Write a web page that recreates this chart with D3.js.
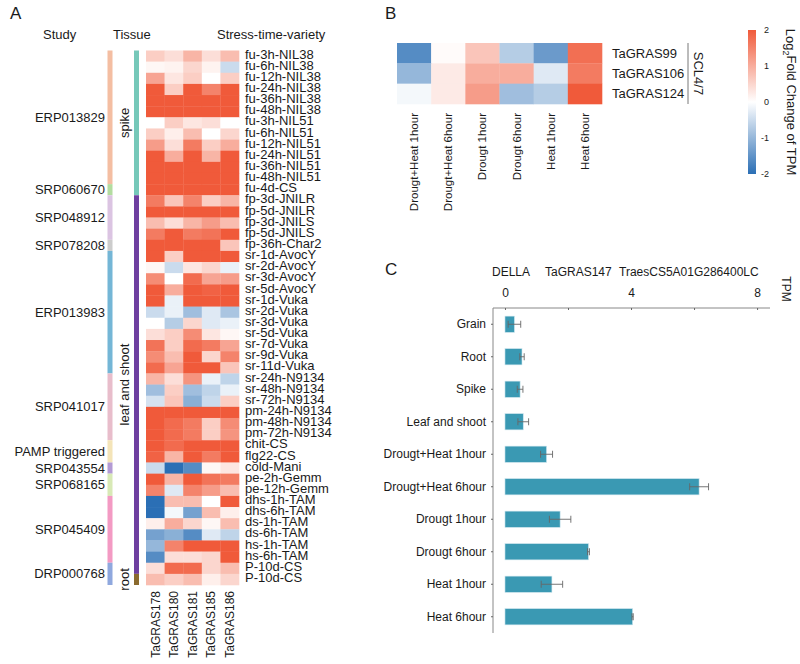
<!DOCTYPE html>
<html><head><meta charset="utf-8">
<script src="https://cdn.jsdelivr.net/npm/d3@7"></script>
<style>body{margin:0;background:#fff}svg{display:block;font-family:"Liberation Sans",Arial,sans-serif}</style>
</head><body><svg id="c" width="800" height="664"></svg>
<script>
// ---------- Panel A data ----------
const rowsA = ["fu-3h-NIL38","fu-6h-NIL38","fu-12h-NIL38","fu-24h-NIL38","fu-36h-NIL38","fu-48h-NIL38",
 "fu-3h-NIL51","fu-6h-NIL51","fu-12h-NIL51","fu-24h-NIL51","fu-36h-NIL51","fu-48h-NIL51","fu-4d-CS",
 "fp-3d-JNILR","fp-5d-JNILR","fp-3d-JNILS","fp-5d-JNILS","fp-36h-Char2",
 "sr-1d-AvocY","sr-2d-AvocY","sr-3d-AvocY","sr-5d-AvocY","sr-1d-Vuka","sr-2d-Vuka","sr-3d-Vuka","sr-5d-Vuka",
 "sr-7d-Vuka","sr-9d-Vuka","sr-11d-Vuka","sr-24h-N9134","sr-48h-N9134","sr-72h-N9134",
 "pm-24h-N9134","pm-48h-N9134","pm-72h-N9134","chit-CS","flg22-CS","cold-Mani","pe-2h-Gemm","pe-12h-Gemm",
 "dhs-1h-TAM","dhs-6h-TAM","ds-1h-TAM","ds-6h-TAM","hs-1h-TAM","hs-6h-TAM","P-10d-CS","P-10d-CS"];
const colsA = ["TaGRAS178","TaGRAS180","TaGRAS181","TaGRAS185","TaGRAS186"];
const valuesA = [
 [0.6,0.4,0.9,0.4,0.8],[0.1,0.15,0.5,0.15,-0.5],[1.1,0.3,0.6,0.0,0.6],[2,0.6,2,1.5,2],[2,2,2,2,2],[2,2,2,2,2],
 [0.0,0.6,0.3,0.4,0.0],[0.6,0.2,0.8,0.0,0.5],[1.2,0.4,1.6,0.6,1.0],[2,1.0,2,0.9,2],[2,2,2,2,2],[2,2,2,2,2],[2,2,2,2,2],
 [1.6,0.7,1.5,0.6,0.9],[2,2,2,2,2],[0.8,0.4,0.9,1.2,0.8],[1.6,2,1.6,1.7,2],[2,2,2,2,0.7],
 [2,0.6,2,2,2],[0.1,-0.5,0.3,0.5,-0.2],[1.4,0.0,1.8,1.1,1.2],[2,1.0,2,1.9,2],[2,-0.2,2,2,2],
 [-0.5,-0.2,-0.9,-0.3,-0.8],[0.0,-0.7,0.5,-0.3,-0.2],[0.4,0.6,1.4,0.3,0.1],[1.7,0.6,1.8,1.6,1.1],
 [1.4,0.8,2,0.5,1.5],[1.8,1.1,2,2,0.7],[0.9,0.4,1.3,-0.2,-0.6],[-0.9,0.6,-0.9,-0.6,-0.2],[-0.4,0.7,-1.1,-0.5,0.6],
 [2,2,2,2,2],[2,1.8,1.6,0.6,1.4],[2,1.8,1.6,0.6,1.3],[2,1.8,2,2,2],[1.9,0.9,2,1.6,2],
 [-0.5,-2,-1.6,0.1,0.3],[2,0.9,2,1.7,1.6],[1.5,-0.3,1.5,1.2,0.8],
 [-2,0.8,0.8,0.0,2],[-2,-0.1,-1.3,0.8,0.2],[0.2,1.0,0.5,0.1,0.8],[-1.3,-1.1,-1.6,-0.3,-0.6],
 [-1.0,1.5,2,2,2],[-1.6,0.4,0.4,0.5,2],[0.4,1.8,1.8,0.5,0.8],[0.8,0.6,0.8,0.2,0.5]
];
const studyNames = ["ERP013829","SRP060670","SRP048912","SRP078208","ERP013983","SRP041017","PAMP triggered","SRP043554","SRP068165","SRP045409","DRP000768"];
const studyCounts = [12,1,4,1,11,6,2,1,2,6,2];
const studyColors = ["#f4bea2","#b3dca0","#dbc4e2","#cccccc","#74b6d6","#e8bdcb","#f4e4b8","#b39ad4","#d8e9b6","#f39ac3","#8fa8de"];
const tissueNames = ["spike","leaf and shoot","root"];
const tissueCounts = [13,34,1];
const tissueColors = ["#76c8b9","#6e3fa0","#8b6a2e"];

// ---------- Panel B data ----------
const rowsB = ["TaGRAS99","TaGRAS106","TaGRAS124"];
const colsB = ["Drougt+Heat 1hour","Drougt+Heat 6hour","Drougt 1hour","Drougt 6hour","Heat 1hour","Heat 6hour"];
const valuesB = [
 [-1.6,0.05,0.7,-0.7,-1.4,1.75],
 [-1.0,0.25,1.0,1.0,-0.3,1.6],
 [-0.1,0.25,1.2,-0.9,-0.7,2.0]
];
const legendTicks = [2,1,0,-1,-2];

// ---------- Panel C data ----------
const barTitle = ["DELLA","TaGRAS147","TraesCS5A01G286400LC"];
const barCategories = ["Grain","Root","Spike","Leaf and shoot","Drougt+Heat 1hour","Drougt+Heat 6hour","Drougt 1hour","Drougt 6hour","Heat 1hour","Heat 6hour"];
const barValues = [0.3,0.54,0.48,0.58,1.32,6.16,1.75,2.65,1.49,4.05];
const barErrors = [0.2,0.07,0.09,0.17,0.19,0.3,0.34,0.03,0.34,0.02];
const barTicks = [0,2,4,6,8];
const barTickLabels = [0,4,8];

// ---------- drawing ----------
const svg = d3.select("#c");
const color = d3.scaleLinear().domain([-2,0,2]).range(["#2b6fb5","#ffffff","#f05a3a"]).clamp(true);
const txt = "#1a1a1a";

function label(t,x,y){svg.append("text").attr("x",x).attr("y",y).attr("font-size",17).attr("fill",txt).text(t);}
label("A",10,19); label("B",385,19); label("C",385,275);

// Panel A
const gA = svg.append("g");
const xA = d3.scaleBand().domain(colsA).range([146,239]);
const yA = d3.scaleBand().domain(d3.range(rowsA.length)).range([50.5,585]);
valuesA.forEach((row,i)=>row.forEach((v,j)=>{
  gA.append("rect").attr("x",xA(colsA[j])).attr("y",yA(i)).attr("width",xA.bandwidth()+0.3).attr("height",yA.bandwidth()+0.3).attr("fill",color(v));
}));
gA.selectAll(".rl").data(rowsA).join("text").attr("x",245).attr("y",(d,i)=>yA(i)+yA.bandwidth()/2)
  .attr("dy","0.2em").attr("font-size",13).attr("fill",txt).text(d=>d);
gA.selectAll(".cl").data(colsA).join("text")
  .attr("transform",d=>`translate(${xA(d)+xA.bandwidth()/2},591) rotate(-90)`)
  .attr("text-anchor","end").attr("dy","0.35em").attr("font-size",12).attr("fill",txt).text(d=>d);
[["Study",43],["Tissue",113],["Stress-time-variety",217]].forEach(([t,x])=>
  gA.append("text").attr("x",x).attr("y",39).attr("font-size",13).attr("fill",txt).text(t));
// study annotation
let start=0;
studyNames.forEach((s,k)=>{
  const y0=yA(start), y1=yA(start+studyCounts[k]-1)+yA.bandwidth();
  gA.append("rect").attr("x",107.5).attr("y",y0).attr("width",5).attr("height",y1-y0).attr("fill",studyColors[k]);
  gA.append("text").attr("x",105).attr("y",(y0+y1)/2).attr("dy","0.35em").attr("text-anchor","end").attr("font-size",13).attr("fill",txt).text(s);
  start+=studyCounts[k];
});
start=0;
tissueNames.forEach((s,k)=>{
  const y0=yA(start), y1=yA(start+tissueCounts[k]-1)+yA.bandwidth();
  gA.append("rect").attr("x",134).attr("y",y0).attr("width",5).attr("height",y1-y0).attr("fill",tissueColors[k]);
  gA.append("text").attr("transform",`translate(124.5,${(y0+y1)/2}) rotate(-90)`).attr("text-anchor","middle")
    .attr("dy","0.35em").attr("font-size",13).attr("fill",txt).text(s);
  start+=tissueCounts[k];
});

// Panel B
const gB = svg.append("g");
const xB = d3.scaleBand().domain(colsB).range([397,602]);
const yB = d3.scaleBand().domain(rowsB).range([43,104]);
valuesB.forEach((row,i)=>row.forEach((v,j)=>{
  gB.append("rect").attr("x",xB(colsB[j])).attr("y",yB(rowsB[i])).attr("width",xB.bandwidth()+0.3).attr("height",yB.bandwidth()+0.3).attr("fill",color(v));
}));
gB.selectAll(".rl").data(rowsB).join("text").attr("x",612).attr("y",d=>yB(d)+yB.bandwidth()/2)
  .attr("dy","0.35em").attr("font-size",13).attr("fill",txt).text(d=>d);
gB.selectAll(".cl").data(colsB).join("text")
  .attr("transform",d=>`translate(${xB(d)+xB.bandwidth()/2},113) rotate(-90)`)
  .attr("text-anchor","end").attr("dy","0.35em").attr("font-size",11.5).attr("fill",txt).text(d=>d);
gB.append("line").attr("x1",688).attr("x2",688).attr("y1",yB.range()[0]).attr("y2",yB.range()[1]).attr("stroke","#555").attr("stroke-width",0.8);
gB.append("text").attr("transform",`translate(694,${(yB.range()[0]+yB.range()[1])/2}) rotate(90)`).attr("text-anchor","middle")
  .attr("font-size",13).attr("fill",txt).text("SCL4/7");
// legend
const yL = d3.scaleLinear().domain([-2,2]).range([174,30]);
const defs = svg.append("defs");
const grad = defs.append("linearGradient").attr("id","lg").attr("x1",0).attr("x2",0).attr("y1",1).attr("y2",0);
d3.range(-2,2.01,0.25).forEach(v=>grad.append("stop").attr("offset",(v+2)/4).attr("stop-color",color(v)));
gB.append("rect").attr("x",748).attr("y",yL(2)).attr("width",8).attr("height",yL(-2)-yL(2)).attr("fill","url(#lg)");
gB.selectAll(".lt").data(legendTicks).join("text").attr("x",769).attr("y",d=>yL(d)).attr("dy","0.35em")
  .attr("text-anchor","end").attr("font-size",9).attr("fill",txt).text(d=>d);
const lt = gB.append("text").attr("transform",`translate(786,${(yL(2)+yL(-2))/2}) rotate(90)`).attr("text-anchor","middle").attr("font-size",13).attr("fill",txt);
lt.append("tspan").text("Log");
lt.append("tspan").attr("dy","0.35em").attr("font-size",9).text("2");
lt.append("tspan").attr("dy","-0.35em").text("Fold Change of TPM");

// Panel C
const gC = svg.append("g");
const titleX = [492,545,619];
barTitle.forEach((t,i)=>
  gC.append("text").attr("x",titleX[i]).attr("y",276).attr("font-size",12).attr("fill",txt).text(t));
const xC = d3.scaleLinear().domain([-0.38,8.41]).range([493,770]);
const yC = d3.scaleBand().domain(barCategories).range([308,633]).paddingInner(0.5).paddingOuter(0.25);
const axTop = d3.axisTop(xC).tickValues(barTicks).tickSize(-2).tickPadding(11)
  .tickFormat(d=>barTickLabels.includes(d)?d:"");
const gx = gC.append("g").attr("transform","translate(0,308)").call(axTop);
gx.select(".domain").attr("stroke","#888").attr("d",`M${xC.range()[0]},0H${xC.range()[1]}`);
gx.selectAll(".tick line").attr("stroke","#666");
gx.selectAll("text").attr("font-size",12).attr("fill",txt).attr("font-family","Liberation Sans, Arial");
const axLeft = d3.axisLeft(yC).tickSize(2).tickPadding(5);
const gy = gC.append("g").attr("transform","translate(493,0)").call(axLeft);
gy.select(".domain").attr("stroke","#888").attr("d",`M0,308V633`);
gy.selectAll(".tick line").attr("stroke","#666");
gy.selectAll("text").attr("font-size",12).attr("fill",txt).attr("font-family","Liberation Sans, Arial");
gC.selectAll(".bar").data(barCategories).join("rect").attr("x",xC(0)).attr("y",d=>yC(d))
  .attr("width",(d,i)=>xC(barValues[i])-xC(0)).attr("height",yC.bandwidth())
  .attr("fill","#3a99b3").attr("stroke","#cfe6ee").attr("stroke-width",0.6);
barCategories.forEach((c,i)=>{
  const cy=yC(c)+yC.bandwidth()/2, a=xC(barValues[i]-barErrors[i]), b=xC(barValues[i]+barErrors[i]);
  const g=gC.append("g").attr("stroke","#666").attr("stroke-width",0.9);
  g.append("line").attr("x1",a).attr("x2",b).attr("y1",cy).attr("y2",cy);
  g.append("line").attr("x1",a).attr("x2",a).attr("y1",cy-3.5).attr("y2",cy+3.5);
  g.append("line").attr("x1",b).attr("x2",b).attr("y1",cy-3.5).attr("y2",cy+3.5);
});
gC.append("text").attr("transform",`translate(782,289) rotate(90)`).attr("text-anchor","middle").attr("font-size",12).attr("fill",txt).text("TPM");
</script></body></html>
